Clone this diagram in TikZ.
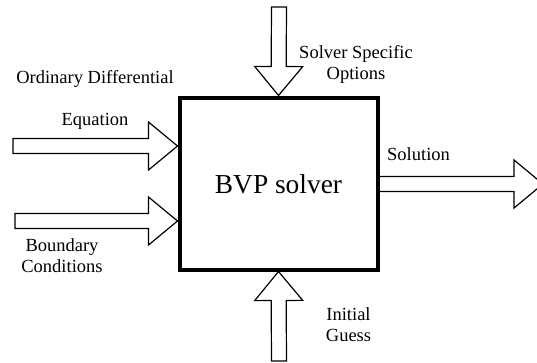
\documentclass[tikz,border=0pt]{standalone}
\usepackage{fontspec}
\setmainfont{Liberation Serif}
\usetikzlibrary{calc}

\tikzset{
  fatarrow/.style={line width=1.2pt, line join=miter, to path={
    ($(\tikztostart)!7.5pt!90:(\tikztotarget)$)
    -- ($(\tikztotarget)!29pt!(\tikztostart)!7.5pt!90:(\tikztotarget)$)
    -- ($(\tikztotarget)!29pt!(\tikztostart)!24pt!90:(\tikztotarget)$)
    -- (\tikztotarget)
    -- ($(\tikztotarget)!29pt!(\tikztostart)!24pt!-90:(\tikztotarget)$)
    -- ($(\tikztotarget)!29pt!(\tikztostart)!7.5pt!-90:(\tikztotarget)$)
    -- ($(\tikztostart)!7.5pt!-90:(\tikztotarget)$) -- cycle}},
  lbl/.style={align=center, inner sep=0pt, font=\fontsize{18.5}{21}\selectfont}
}

\begin{document}
\begin{tikzpicture}[x=1pt, y=-1pt]
    \useasboundingbox (0,0) rectangle (537,362);
    \clip (0,0) rectangle (537,362);

    % The solver block
    \node[draw, line width=4pt, minimum width=198pt, minimum height=172pt,
          text depth=0pt, font=\fontsize{27.4}{30}\selectfont]
          (solver) at (278.5,183.5) {BVP solver};

    % Ends of the block arrows
    \coordinate (odeIn) at (13,146);
    \coordinate (odeTip) at (solver.west |- odeIn);
    \coordinate (bcIn) at (15,221);
    \coordinate (bcTip) at (solver.west |- bcIn);
    \coordinate (optIn) at (279,7);
    \coordinate (guessIn) at (279,361);
    \coordinate (solStart) at ([xshift=-2pt]solver.east |- 0,184);
    \coordinate (solTip) at (543,184);

    % Inputs
    \draw[fatarrow] (odeIn) to (odeTip);
    \draw[fatarrow] (bcIn) to (bcTip);
    \draw[fatarrow] (optIn) to (solver.north);
    \draw[fatarrow] (guessIn) to (solver.south);

    % Output
    \draw[fatarrow] (solStart) to (solTip);

    \node[lbl] (odeLbl) at (95,99.7) {Ordinary Differential\\[21pt]Equation};
    \node[lbl] (bcLbl) at (62,255.2) {Boundary\\Conditions};
    \node[lbl] (optLbl) at (356,64.2) {Solver Specific\\Options};
    \node[lbl] (guessLbl) at (348.5,324.2) {Initial\\Guess};
    \node[lbl, anchor=base west] (solLbl) at (387,160) {Solution};
\end{tikzpicture}
\end{document}
